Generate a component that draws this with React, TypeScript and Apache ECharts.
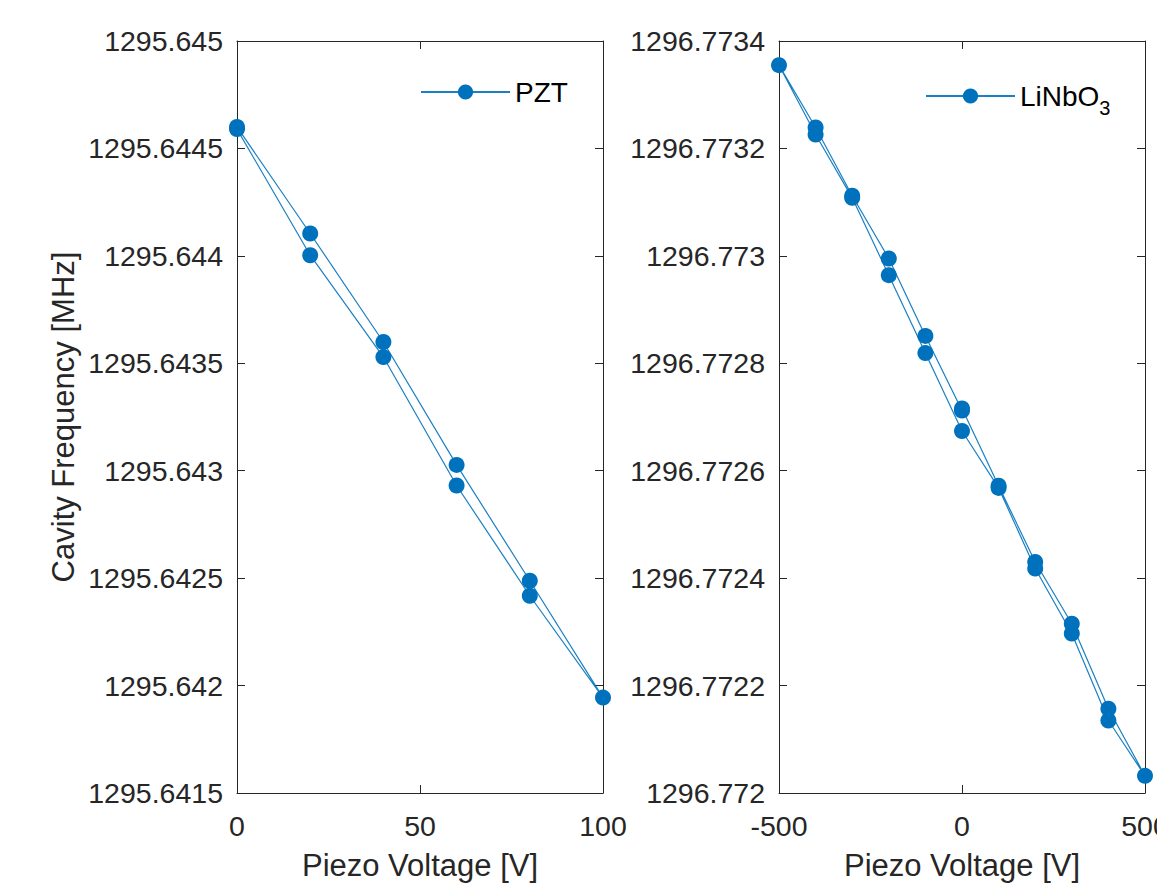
import React, { useEffect, useRef } from "react";
import * as echarts from "echarts";

const FONT = '"Liberation Sans", Arial, Helvetica, sans-serif';
const AXIS_COLOR = "#262626";
const SERIES_COLOR = "#0072BD";

// PZT panel (increasing voltage sweep, then decreasing)
const pztVoltage = [0, 20, 40, 60, 80, 100, 80, 60, 40, 20, 0];
const pztFrequency = [
  1295.6446, 1295.644104, 1295.643599, 1295.643027, 1295.642488, 1295.641944,
  1295.642418, 1295.642931, 1295.643529, 1295.644003, 1295.64459,
];

// LiNbO3 panel (0 -> 500 -> -500 -> 0)
const linbVoltage = [
  0, 100, 200, 300, 400, 500, 400, 300, 200, 100, 0, -100, -200, -300, -400, -500,
  -400, -300, -200, -100, 0,
];
const linbFrequency = [
  1296.772716, 1296.772572, 1296.77243, 1296.772315, 1296.772157, 1296.772032,
  1296.772135, 1296.772297, 1296.772418, 1296.772568, 1296.772674, 1296.772819,
  1296.772964, 1296.773108, 1296.773226, 1296.773355, 1296.773239, 1296.773112,
  1296.772995, 1296.772851, 1296.772712,
];

const pztXTicks = { min: 0, max: 100, interval: 50 };
const pztYTicks = { min: 1295.6415, max: 1295.645, interval: 0.0005 };
const linbXTicks = { min: -500, max: 500, interval: 500 };
const linbYTicks = { min: 1296.772, max: 1296.7734, interval: 0.0002 };

const xLabel = "Piezo Voltage [V]";
const yLabel = "Cavity Frequency [MHz]";
const seriesNames = ["PZT", "LiNbO3"];

const fmt = (v: number) => String(parseFloat(v.toFixed(5)));

function baseAxis(gridIndex: number, position: string, ticks: any, showLabels: boolean, margin = 14) {
  return {
    type: "value",
    gridIndex,
    position,
    min: ticks.min,
    max: ticks.max,
    interval: ticks.interval,
    splitLine: { show: false },
    axisLine: { show: true, onZero: false, lineStyle: { color: AXIS_COLOR, width: 1 } },
    axisTick: { show: true, inside: true, length: 8, lineStyle: { color: AXIS_COLOR, width: 1 } },
    axisLabel: {
      show: showLabels,
      formatter: fmt,
      color: AXIS_COLOR,
      fontSize: 28.5,
      fontFamily: FONT,
      margin,
      showMinLabel: true,
      showMaxLabel: true,
      hideOverlap: false,
    },
  };
}

export default function App() {
  const ref = useRef<HTMLDivElement>(null);
  useEffect(() => {
    document.body.style.margin = "0";
    if (!ref.current) return;
    const chart = echarts.init(ref.current, undefined, { renderer: "svg" });
    const nameStyle = { color: AXIS_COLOR, fontSize: 31, fontFamily: FONT };
    const option: any = {
      animation: false,
      backgroundColor: "#ffffff",
      textStyle: { fontFamily: FONT },
      grid: [
        { left: 237, right: 554, top: 41, bottom: 92, outerBoundsMode: "none", containLabel: false },
        { left: 779, right: 12, top: 41, bottom: 92, outerBoundsMode: "none", containLabel: false },
      ],
      xAxis: [
        {
          ...baseAxis(0, "bottom", pztXTicks, true, 18),
          name: xLabel,
          nameLocation: "middle",
          nameGap: 57,
          nameTextStyle: nameStyle,
        },
        baseAxis(0, "top", pztXTicks, false),
        {
          ...baseAxis(1, "bottom", linbXTicks, true, 18),
          name: xLabel,
          nameLocation: "middle",
          nameGap: 57,
          nameTextStyle: nameStyle,
        },
        baseAxis(1, "top", linbXTicks, false),
      ],
      yAxis: [
        {
          ...baseAxis(0, "left", pztYTicks, true),
          name: yLabel,
          nameLocation: "middle",
          nameGap: 158,
          nameRotate: 90,
          nameTextStyle: nameStyle,
        },
        baseAxis(0, "right", pztYTicks, false),
        baseAxis(1, "left", linbYTicks, true),
        baseAxis(1, "right", linbYTicks, false),
      ],
      legend: [
        {
          data: [seriesNames[0]],
          left: 420,
          top: 78,
          itemWidth: 89,
          itemHeight: 19,
          padding: 0,
          textStyle: { color: "#000", fontSize: 28, fontFamily: FONT },
        },
        {
          data: [seriesNames[1]],
          left: 925,
          top: 74,
          itemWidth: 89,
          itemHeight: 19,
          padding: 0,
          formatter: (name: string) => (name === "LiNbO3" ? "LiNbO{sub|3}" : name),
          textStyle: {
            color: "#000",
            fontSize: 28,
            fontFamily: FONT,
            lineHeight: 44,
            rich: {
              sub: { fontSize: 20, lineHeight: 20, verticalAlign: "bottom", color: "#000", fontFamily: FONT },
            },
          },
        },
      ],
      series: [
        {
          name: seriesNames[0],
          type: "line",
          xAxisIndex: 0,
          yAxisIndex: 0,
          data: pztVoltage.map((v, i) => [v, pztFrequency[i]]),
          symbol: "circle",
          symbolSize: 16,
          showSymbol: true,
          color: SERIES_COLOR,
          itemStyle: { color: SERIES_COLOR },
          lineStyle: { color: SERIES_COLOR, width: 1.2, opacity: 0.9 },
        },
        {
          name: seriesNames[1],
          type: "line",
          xAxisIndex: 2,
          yAxisIndex: 2,
          data: linbVoltage.map((v, i) => [v, linbFrequency[i]]),
          symbol: "circle",
          symbolSize: 16,
          showSymbol: true,
          color: SERIES_COLOR,
          itemStyle: { color: SERIES_COLOR },
          lineStyle: { color: SERIES_COLOR, width: 1.2, opacity: 0.9 },
        },
      ],
    };
    chart.setOption(option);
    return () => chart.dispose();
  }, []);
  return <div ref={ref} style={{ width: 1157, height: 885 }} />;
}
